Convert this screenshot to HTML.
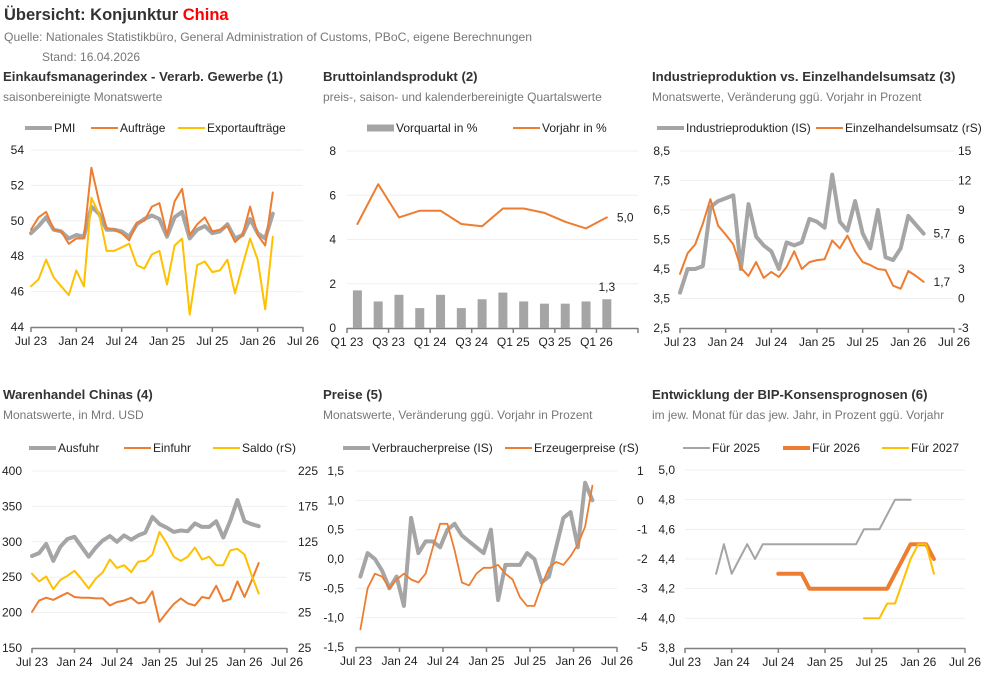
<!DOCTYPE html>
<html><head><meta charset="utf-8">
<style>
html,body{margin:0;padding:0;background:#fff;width:985px;height:686px;overflow:hidden}
svg{display:block;font-family:"Liberation Sans",Arial,sans-serif}
.t{font-size:16.5px;font-weight:bold;fill:#333}
.src{font-size:12px;fill:#777}
.pt{font-size:13.2px;font-weight:bold;fill:#333}
.ps{font-size:12px;fill:#777}
.lg{font-size:12px;fill:#222}
.tk{font-size:12px;fill:#222}
</style></head>
<body>
<svg id="root" width="985" height="686" viewBox="0 0 985 686">
<text class="t" x="4" y="20">Übersicht: Konjunktur <tspan fill="#ff0000">China</tspan></text>
<text class="src" x="4" y="41" textLength="528" lengthAdjust="spacingAndGlyphs">Quelle: Nationales Statistikbüro, General Administration of Customs, PBoC, eigene Berechnungen</text>
<text class="src" x="42" y="61">Stand:  16.04.2026</text>

<text class="pt" x="3" y="81">Einkaufsmanagerindex - Verarb. Gewerbe (1)</text>
<text class="ps" x="3" y="101">saisonbereinigte Monatswerte</text>
<text class="pt" x="323" y="81">Bruttoinlandsprodukt (2)</text>
<text class="ps" x="323" y="101">preis-, saison- und kalenderbereinigte Quartalswerte</text>
<text class="pt" x="652" y="81">Industrieproduktion vs. Einzelhandelsumsatz (3)</text>
<text class="ps" x="652" y="101">Monatswerte, Veränderung ggü. Vorjahr in Prozent</text>
<text class="pt" x="3" y="399">Warenhandel Chinas (4)</text>
<text class="ps" x="3" y="419">Monatswerte, in Mrd. USD</text>
<text class="pt" x="323" y="399">Preise (5)</text>
<text class="ps" x="323" y="419">Monatswerte, Veränderung ggü. Vorjahr in Prozent</text>
<text class="pt" x="652" y="399">Entwicklung der BIP-Konsensprognosen (6)</text>
<text class="ps" x="652" y="419">im jew. Monat für das jew. Jahr, in Prozent ggü. Vorjahr</text>
</svg>
<script>
// ---- data ----
const monthLabels=["Jul 23","Jan 24","Jul 24","Jan 25","Jul 25","Jan 26","Jul 26"];
const pmi=[49.3,49.7,50.2,49.5,49.4,49.0,49.2,49.1,50.8,50.4,49.5,49.5,49.4,49.1,49.8,50.1,50.3,50.1,49.1,50.2,50.5,49.0,49.5,49.7,49.3,49.4,49.8,49.0,49.2,50.1,49.3,49.0,50.4];
const auftraege=[49.5,50.2,50.5,49.5,49.4,48.7,49.0,49.0,53.0,51.1,49.6,49.5,49.3,48.9,49.9,50.0,50.8,51.0,49.2,51.1,51.8,49.2,49.8,50.2,49.4,49.5,49.7,48.8,49.2,50.8,49.2,48.6,51.6];
const exportAuftraege=[46.3,46.7,47.8,46.8,46.3,45.8,47.2,46.3,51.3,50.4,48.3,48.3,48.5,48.7,47.5,47.3,48.1,48.3,46.4,48.6,49.0,44.7,47.5,47.7,47.1,47.2,47.8,45.9,47.5,49.0,47.8,45.0,49.1];
const quarterLabels=["Q1 23","Q3 23","Q1 24","Q3 24","Q1 25","Q3 25","Q1 26"];
const bipVorquartal=[1.7,1.2,1.5,0.9,1.5,0.9,1.3,1.6,1.2,1.1,1.1,1.2,1.3];
const bipVorjahr=[4.7,6.5,5.0,5.3,5.3,4.7,4.6,5.4,5.4,5.2,4.8,4.5,5.0];
const industrie=[3.7,4.5,4.5,4.6,6.6,6.8,6.9,7.0,4.5,6.7,5.6,5.3,5.1,4.5,5.4,5.3,5.4,6.2,6.1,5.9,7.7,6.1,5.8,6.8,5.7,5.2,6.5,4.9,4.8,5.2,6.3,6.0,5.7];
const einzelhandel=[2.5,4.6,5.5,7.6,10.1,7.4,6.5,5.5,3.1,2.3,3.7,2.1,2.7,2.2,3.2,4.8,3.0,3.7,3.9,4.0,5.9,5.1,6.4,4.8,3.7,3.4,3.0,2.9,1.3,1.0,2.8,2.3,1.7];
const ausfuhr=[280,284,297,273,293,304,307,293,279,292,302,308,300,309,303,309,313,335,325,320,314,316,315,326,321,321,329,306,330,359,329,325,322];
const einfuhr=[201,217,221,218,223,228,222,221,221,220,220,210,215,217,221,213,215,230,187,200,212,220,213,210,222,220,238,216,219,244,222,245,270];
const saldo=[80,69,76,58,71,77,84,72,59,73,82,100,88,92,82,97,98,107,139,123,104,98,104,117,100,104,92,92,113,115,107,78,52];
const cpi=[-0.3,0.1,0.0,-0.2,-0.5,-0.3,-0.8,0.7,0.1,0.3,0.3,0.2,0.5,0.6,0.4,0.3,0.2,0.1,0.5,-0.7,-0.1,-0.1,-0.1,0.1,0.0,-0.4,-0.3,0.2,0.7,0.8,0.2,1.3,1.0];
const ppi=[-4.4,-3.0,-2.5,-2.6,-3.0,-2.7,-2.5,-2.7,-2.8,-2.5,-1.6,-0.8,-0.8,-1.7,-2.8,-2.9,-2.5,-2.3,-2.3,-2.2,-2.5,-2.7,-3.3,-3.6,-3.6,-2.9,-2.3,-2.1,-2.2,-1.9,-1.5,-0.9,0.5];
const f2025Start=4;
const f2025=[4.3,4.5,4.3,4.4,4.5,4.4,4.5,4.5,4.5,4.5,4.5,4.5,4.5,4.5,4.5,4.5,4.5,4.5,4.5,4.6,4.6,4.6,4.7,4.8,4.8,4.8];
const f2026Start=12;
const f2026=[4.3,4.3,4.3,4.3,4.2,4.2,4.2,4.2,4.2,4.2,4.2,4.2,4.2,4.2,4.2,4.3,4.4,4.5,4.5,4.5,4.4];
const f2027Start=23;
const f2027=[4.0,4.0,4.0,4.1,4.1,4.25,4.4,4.5,4.5,4.3];

// ---- helpers ----
const NS="http://www.w3.org/2000/svg";
const root=document.getElementById('root');
const GRAY="#a5a5a5",ORANGE="#ed7d31",YELLOW="#ffc000",RED="#ff0000";
function mk(tag,attrs,parent){const e=document.createElementNS(NS,tag);for(const k in attrs)e.setAttribute(k,attrs[k]);(parent||root).appendChild(e);return e;}
function fmt(v,d){return v.toFixed(d).replace('.',',');}
function linScale(d0,d1,r0,r1){return v=>r0+(v-d0)*(r1-r0)/(d1-d0);}

function frame(g,cfg,name){
  const y=linScale(cfg.min,cfg.max,cfg.yBot,cfg.yTop);
  for(let v=cfg.min;v<=cfg.max+1e-9;v+=cfg.step){
    const yy=y(v);
    if(v>cfg.min+1e-9){const gl=mk('line',{x1:cfg.x0,x2:cfg.x1,y1:yy,y2:yy,stroke:'#efefef','stroke-width':1},g);
    
    }
    const t=mk('text',{x:cfg.lx,y:yy+4,'text-anchor':'end',class:'tk'},g);
    t.textContent=fmt(v,cfg.dec);
    if(v<0)t.setAttribute('fill',RED);
    
    
  }
  const ax=mk('line',{x1:cfg.x0,x2:cfg.x1,y1:cfg.yBot+0.5,y2:cfg.yBot+0.5,stroke:'#7f7f7f','stroke-width':1.5},g);
  
  
  return y;
}
function rightAxis(g,cfg,r,name){
  const y=linScale(r.min,r.max,cfg.yBot,cfg.yTop);
  for(let v=r.min;v<=r.max+1e-9;v+=r.step){
    const t=mk('text',{x:r.lx,y:y(v)+4,class:'tk'},g);
    t.textContent=r.labels?r.labels[Math.round((v-r.min)/r.step)]:fmt(v,0);
    if(v<0)t.setAttribute('fill',RED);
    
    
  }
  return y;
}
function monthAxis(g,cfg,name){
  const x=i=>cfg.x0+(i+(cfg.off||0))*(cfg.x1-cfg.x0)/36;
  monthLabels.forEach((l,k)=>{
    const xx=cfg.x0+k*6*(cfg.x1-cfg.x0)/36;
    const tk=mk('line',{x1:xx,x2:xx,y1:cfg.yBot,y2:cfg.yBot+5,stroke:'#7f7f7f','stroke-width':1.5},g);
    
    
    const t=mk('text',{x:xx,y:cfg.yBot+18,'text-anchor':'middle',class:'tk'},g);
    t.textContent=l;
    
    
  });
  return x;
}
function series(g,vals,x,y,color,w,name,start){
  const pts=vals.map((v,i)=>x(i+(start||0)).toFixed(1)+','+y(v).toFixed(1)).join(' ');
  const p=mk('polyline',{points:pts,fill:'none',stroke:color,'stroke-width':w,'stroke-linejoin':'round','stroke-linecap':'round'},g);
  
  
}
function legend(g,x,y,color,w,label,name,bar){
  const l=mk('line',{x1:x,x2:x+27,y1:y,y2:y,stroke:color,'stroke-width':bar?7:w},g);
  
  
  const t=mk('text',{x:x+29,y:y+4,class:'lg'},g);
  t.textContent=label;
  
  
}
function grp(name){const g=mk('g',{});return g;}

// ---- chart 1 ----
{const g=grp('chart1-pmi');
const c={x0:31,x1:303,yTop:150,yBot:327,min:44,max:54,step:2,dec:0,lx:24};
const y=frame(g,c,'chart1');const x=monthAxis(g,c,'chart1');
series(g,pmi,x,y,GRAY,4,'pmi-line');
series(g,auftraege,x,y,ORANGE,2,'auftraege-line');
series(g,exportAuftraege,x,y,YELLOW,2,'exportauftraege-line');
legend(g,25,128,GRAY,4,'PMI','legend-pmi');
legend(g,91,128,ORANGE,2,'Aufträge','legend-auftraege');
legend(g,178,128,YELLOW,2,'Exportaufträge','legend-exportauftraege');}

// ---- chart 2 ----
{const g=grp('chart2-bip');
const c={x0:347,x1:638,yTop:151,yBot:328,min:0,max:8,step:2,dec:0,lx:336};
const y=frame(g,c,'chart2');
const bw=(c.x1-c.x0)/14;
const x=i=>c.x0+(i+0.5)*bw;
for(let k=0;k<=7;k++){const xx=c.x0+k*2*bw;
 const tk=mk('line',{x1:xx,x2:xx,y1:c.yBot,y2:c.yBot+5,stroke:'#7f7f7f','stroke-width':1.5},g);
 
 
 if(k<7){const t=mk('text',{x:xx,y:c.yBot+18,'text-anchor':'middle',class:'tk'},g);t.textContent=quarterLabels[k];
 
 }}
bipVorquartal.forEach((v,i)=>{const b=mk('rect',{x:x(i)-4.5,y:y(v),width:9,height:y(0)-y(v),fill:GRAY},g);
 
 });
series(g,bipVorjahr,x,y,ORANGE,2,'vorjahr-line');
const n=bipVorjahr.length-1;
const t1=mk('text',{x:x(n)+10,y:y(bipVorjahr[n])+4,class:'tk',fill:ORANGE},g);t1.textContent=fmt(bipVorjahr[n],1);


const t2=mk('text',{x:x(n),y:y(bipVorquartal[bipVorquartal.length-1])-8,'text-anchor':'middle',class:'tk'},g);t2.textContent=fmt(bipVorquartal[bipVorquartal.length-1],1);


legend(g,367,128,GRAY,4,'Vorquartal in %','legend-vorquartal',true);
legend(g,513,128,ORANGE,2,'Vorjahr in %','legend-vorjahr');}

// ---- chart 3 ----
{const g=grp('chart3-industrie');
const c={x0:680,x1:954,yTop:151,yBot:328,min:2.5,max:8.5,step:1,dec:1,lx:670};
const y=frame(g,c,'chart3');const x=monthAxis(g,c,'chart3');
const y2=rightAxis(g,c,{min:-3,max:15,step:3,lx:958},'chart3');
series(g,industrie,x,y,GRAY,4,'industrie-line');
series(g,einzelhandel,x,y2,ORANGE,2,'einzelhandel-line');
const n=industrie.length-1;
const a=mk('text',{x:x(n)+10,y:y(industrie[n])+4,class:'tk',fill:'#7f7f7f'},g);a.textContent=fmt(industrie[n],1);


const b=mk('text',{x:x(n)+10,y:y2(einzelhandel[n])+4,class:'tk',fill:ORANGE},g);b.textContent=fmt(einzelhandel[n],1);


legend(g,657,128,GRAY,4,'Industrieproduktion (IS)','legend-industrie');
legend(g,816,128,ORANGE,2,'Einzelhandelsumsatz (rS)','legend-einzelhandel');}

// ---- chart 4 ----
{const g=grp('chart4-handel');
const c={x0:32,x1:287,yTop:471,yBot:648,min:150,max:400,step:50,dec:0,lx:22};
const y=frame(g,c,'chart4');const x=monthAxis(g,c,'chart4');
const y2=rightAxis(g,c,{min:-25,max:225,step:50,lx:298,labels:["25","25","75","125","175","225"]},'chart4');
series(g,ausfuhr,x,y,GRAY,4,'ausfuhr-line');
series(g,einfuhr,x,y,ORANGE,2,'einfuhr-line');
series(g,saldo,x,y2,YELLOW,2,'saldo-line');
legend(g,29,448,GRAY,4,'Ausfuhr','legend-ausfuhr');
legend(g,124,448,ORANGE,2,'Einfuhr','legend-einfuhr');
legend(g,213,448,YELLOW,2,'Saldo (rS)','legend-saldo');}

// ---- chart 5 ----
{const g=grp('chart5-preise');
const c={x0:356,x1:617,yTop:471,yBot:647,min:-1.5,max:1.5,step:0.5,dec:1,lx:344,off:0.6};
const y=frame(g,c,'chart5');const x=monthAxis(g,c,'chart5');
const y2=rightAxis(g,c,{min:-5,max:1,step:1,lx:637},'chart5');
series(g,cpi,x,y,GRAY,4,'cpi-line');
series(g,ppi,x,y2,ORANGE,1.8,'ppi-line');
legend(g,343,448,GRAY,4,'Verbraucherpreise (IS)','legend-cpi');
legend(g,505,448,ORANGE,2,'Erzeugerpreise (rS)','legend-ppi');}

// ---- chart 6 ----
{const g=grp('chart6-prognosen');
const c={x0:685,x1:965,yTop:470,yBot:648,min:3.8,max:5.0,step:0.2,dec:1,lx:675};
const y=frame(g,c,'chart6');const x=monthAxis(g,c,'chart6');
series(g,f2025,x,y,GRAY,2,'forecast-2025-line',f2025Start);
series(g,f2026,x,y,ORANGE,4,'forecast-2026-line',f2026Start);
series(g,f2027,x,y,YELLOW,2,'forecast-2027-line',f2027Start);
legend(g,683,448,GRAY,2,'Für 2025','legend-2025');
legend(g,783,448,ORANGE,4,'Für 2026','legend-2026');
legend(g,882,448,YELLOW,2,'Für 2027','legend-2027');}
</script>
</body></html>
